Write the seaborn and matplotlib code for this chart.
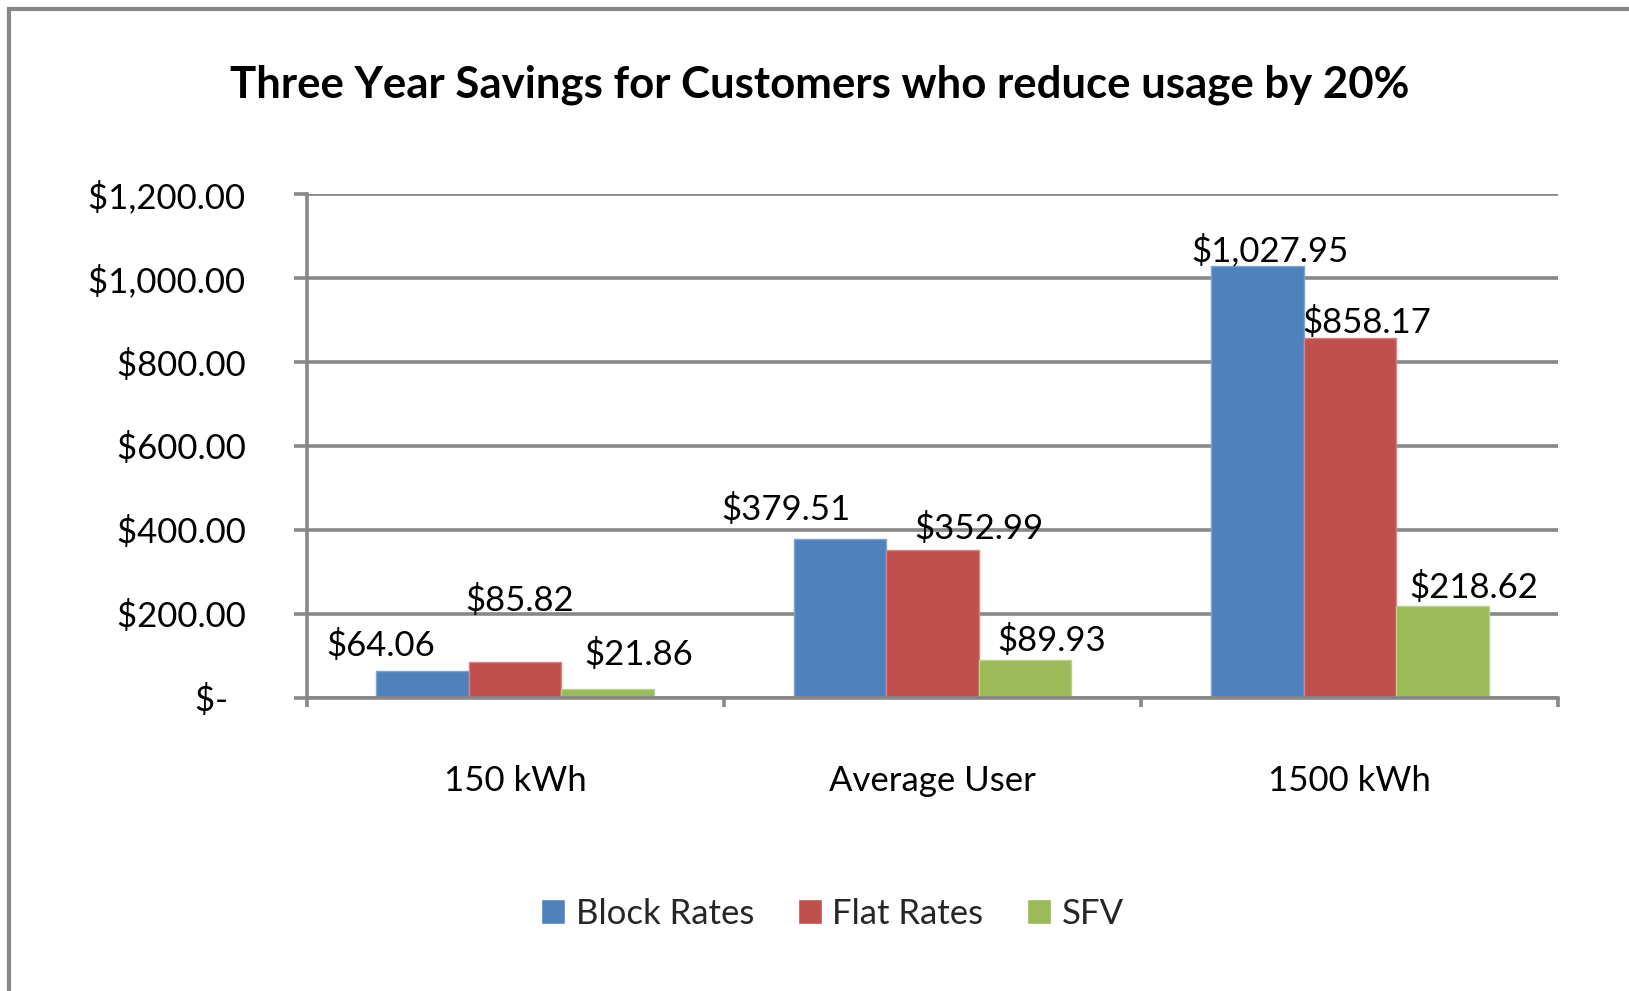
import matplotlib
matplotlib.use("Agg")
import matplotlib.pyplot as plt
from matplotlib.patches import Rectangle
from matplotlib.ticker import FixedLocator, FuncFormatter
import pandas as pd
import seaborn as sns

# data
categories = ["150 kWh", "Average User", "1500 kWh"]
series = ["Block Rates", "Flat Rates", "SFV"]
block_rates = [64.06, 379.51, 1027.95]
flat_rates = [85.82, 352.99, 858.17]
sfv = [21.86, 89.93, 218.62]

colors = ["#4F81BD", "#C0504D", "#9BBB59"]
edge_colors = ["#7FA3D3", "#D88381", "#B9D28A"]
# manual label nudges (x in category units, y in dollars above bar top)
label_dx = [[-0.10, -0.13, 0.03], [0.01, 0.11, 0.04], [0.075, 0.065, 0.075]]
label_dy = [[60, 70, 38], [146, 50, 35], [81, 46, 45]]

GRAY = "#878787"

df = pd.DataFrame({
    "category": categories * 3,
    "series": [s for s in series for _ in categories],
    "savings": block_rates + flat_rates + sfv,
})

sns.set_theme(style="white")
plt.rcParams["font.family"] = ["Lato", "DejaVu Sans"]

fig = plt.figure(figsize=(16.29, 9.91), dpi=100)
ax = fig.add_axes([0.1882, 0.2957, 0.7685, 0.5085])

sns.barplot(
    data=df, x="category", y="savings", hue="series",
    order=categories, hue_order=series, palette=colors,
    width=0.665, saturation=1, ax=ax, legend=True,
)
for cont, ec in zip(ax.containers, edge_colors):
    for bar in cont:
        bar.set_edgecolor(ec)
        bar.set_linewidth(1.0)

ax.set_xlim(-0.5, 2.5)
ax.set_ylim(0, 1200)
ax.set_yticks([0, 200, 400, 600, 800, 1000, 1200])


def money(v, pos=None):
    if abs(v) < 1e-9:
        return "$-   "
    return f"${v:,.2f} "


ax.yaxis.set_major_formatter(FuncFormatter(money))
ax.yaxis.grid(True, color=GRAY, linewidth=2.6)
ax.set_axisbelow(True)
for side in ["top", "right"]:
    ax.spines[side].set_visible(False)
for side in ["left", "bottom"]:
    ax.spines[side].set_color(GRAY)
    ax.spines[side].set_linewidth(2.6)
ax.tick_params(axis="y", which="major", direction="out", length=9.5, width=2.6,
               color=GRAY, pad=28, labelsize=25, labelcolor="black", left=True)
ax.tick_params(axis="x", which="major", length=0, pad=48, labelsize=25, labelcolor="black")
ax.xaxis.set_minor_locator(FixedLocator([-0.5, 0.5, 1.5, 2.5]))
ax.tick_params(axis="x", which="minor", direction="out", length=6.5, width=2.6,
               color=GRAY, bottom=True)
ax.set_xlabel("")
ax.set_ylabel("")
# the zero label sits a touch lower in the original
ax.get_yticklabels()[0].set_va("center_baseline")

for j, cont in enumerate(ax.containers):
    for i, bar in enumerate(cont):
        xc = bar.get_x() + bar.get_width() / 2
        h = bar.get_height()
        ax.text(xc + label_dx[j][i], h + label_dy[j][i], f"${h:,.2f}",
                ha="center", va="center", fontsize=25, color="black")

handles, labels = ax.get_legend_handles_labels()
ax.get_legend().remove()
fig.legend(handles, labels, loc="center", bbox_to_anchor=(0.511, 0.078), ncol=3,
           frameon=False, fontsize=25, handlelength=0.7, handleheight=0.7,
           handletextpad=0.3, columnspacing=1.25)

fig.text(0.503, 0.914, "Three Year Savings for Customers who reduce usage by 20%",
         ha="center", va="center", fontsize=31.5, fontweight="bold", color="black")

fig.patches.append(Rectangle((9 / 1629, -0.1), 1.2, 1.1 - 9 / 991, transform=fig.transFigure,
                             fill=False, edgecolor=GRAY, linewidth=3))

fig.savefig("out.png", dpi=100)
